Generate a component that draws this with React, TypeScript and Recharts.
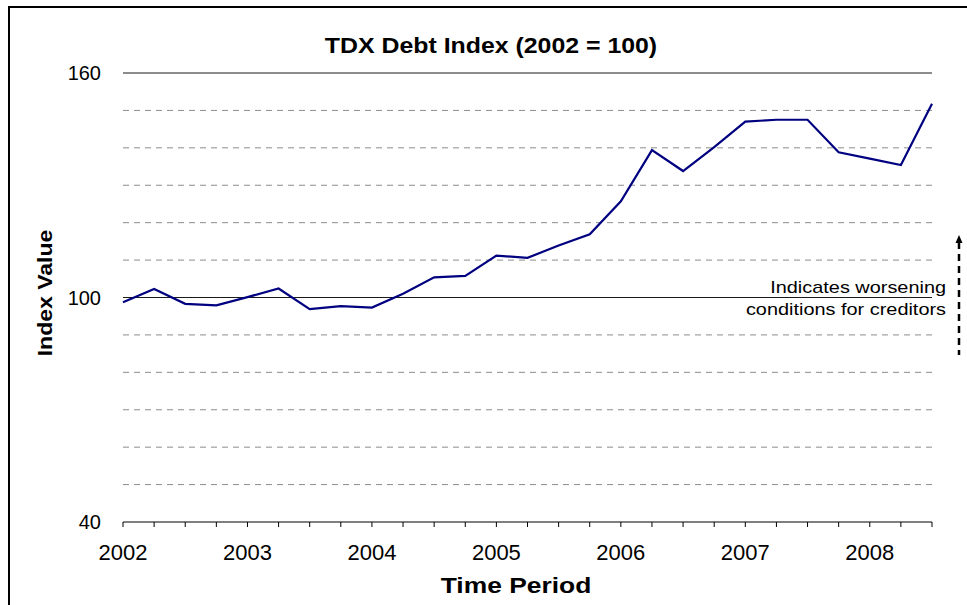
import { Line, LineChart, ReferenceLine, XAxis, YAxis } from "recharts";

// quarterly observations, 2002 Q1 .. 2008 Q3
const quarters = [
  "2002Q1", "2002Q2", "2002Q3", "2002Q4",
  "2003Q1", "2003Q2", "2003Q3", "2003Q4",
  "2004Q1", "2004Q2", "2004Q3", "2004Q4",
  "2005Q1", "2005Q2", "2005Q3", "2005Q4",
  "2006Q1", "2006Q2", "2006Q3", "2006Q4",
  "2007Q1", "2007Q2", "2007Q3", "2007Q4",
  "2008Q1", "2008Q2", "2008Q3",
];

const indexValues = [
  98.7, 102.3, 98.3, 97.9,
  100.1, 102.4, 96.9, 97.7,
  97.3, 101.0, 105.4, 105.8,
  111.2, 110.6, 113.9, 116.9,
  125.7, 139.4, 133.8, 140.2,
  147.0, 147.5, 147.5, 138.8,
  137.1, 135.4, 151.8,
];

const yTicks = [40, 100, 160];
const dashedGrid = [50, 60, 70, 80, 90, 110, 120, 130, 140, 150];
const solidGrid = [100, 160];

const data = quarters.map((q, i) => ({ q, value: indexValues[i] }));

const FONT = "'Liberation Sans', Arial, sans-serif";

export default function App() {
  return (
    <div style={{ position: "absolute", left: 0, top: 0, width: 967, height: 605, background: "#fff", fontFamily: FONT, overflow: "hidden" }}>
      {/* chart frame, only top/left edges fall inside the picture */}
      <div style={{ position: "absolute", left: 8, top: 6, width: 970, height: 620, borderTop: "2px solid #000", borderLeft: "2px solid #000" }} />

      <LineChart
        width={967}
        height={605}
        data={data}
        margin={{ top: 73, right: 35, bottom: 43, left: 63 }}
        style={{ position: "absolute", left: 0, top: 0 }}
      >
        <XAxis
          dataKey="q"
          interval={0}
          height={40}
          stroke="#000"
          tickSize={5}
          tickMargin={17}
          tick={{ fill: "#000", fontSize: 22, fontFamily: FONT }}
          tickFormatter={(q: string) => (q.endsWith("Q1") ? q.slice(0, 4) : "")}
        />
        <YAxis
          width={60}
          domain={[40, 160]}
          ticks={yTicks}
          axisLine={false}
          tickLine={false}
          tickMargin={16}
          tick={{ fill: "#000", fontSize: 20, fontFamily: FONT }}
        />
        {dashedGrid.map((v) => (
          <ReferenceLine key={v} y={v} stroke="#8c8c8c" strokeDasharray="6 5" />
        ))}
        {solidGrid.map((v) => (
          <ReferenceLine key={v} y={v} stroke="#1a1a1a" />
        ))}
        <Line
          dataKey="value"
          stroke="#000080"
          strokeWidth={2.2}
          dot={false}
          isAnimationActive={false}
        />
      </LineChart>

      <div style={{ position: "absolute", left: 0, width: 982, top: 33, textAlign: "center", fontSize: 22, fontWeight: "bold", transform: "scaleX(1.13)" }}>
        TDX Debt Index (2002 = 100)
      </div>
      <div style={{ position: "absolute", left: 0, width: 1032, top: 573, textAlign: "center", fontSize: 22, fontWeight: "bold", transform: "scaleX(1.2)" }}>
        Time Period
      </div>
      <div
        style={{
          position: "absolute",
          left: 45,
          top: 293,
          transform: "translate(-50%, -50%) rotate(-90deg) scaleX(1.15)",
          fontSize: 20,
          fontWeight: "bold",
          whiteSpace: "nowrap",
        }}
      >
        Index Value
      </div>

      <div
        style={{
          position: "absolute",
          right: 967 - 946,
          top: 277,
          textAlign: "right",
          fontSize: 17,
          lineHeight: "22px",
          whiteSpace: "nowrap",
          transform: "scaleX(1.17)",
          transformOrigin: "right center",
        }}
      >
        Indicates worsening
        <br />
        conditions for creditors
      </div>
      <svg style={{ position: "absolute", left: 950, top: 230, width: 17, height: 130 }}>
        <line x1={9} y1={12} x2={9} y2={125} stroke="#000" strokeWidth={2.5} strokeDasharray="7 5" />
        <polygon points="9,5 5.5,13 12.5,13" fill="#000" />
      </svg>
    </div>
  );
}
